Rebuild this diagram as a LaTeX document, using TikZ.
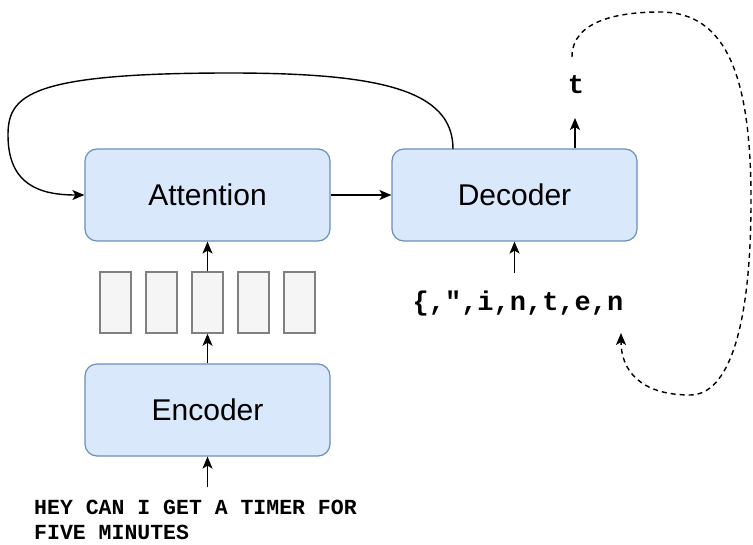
\documentclass[tikz,border=0pt]{standalone}
\usepackage{fontspec}
\setmainfont{Liberation Sans}
\setmonofont{Liberation Mono}
\usetikzlibrary{arrows.meta}
\definecolor{boxfill}{HTML}{DAE8FC}
\definecolor{boxline}{HTML}{6C8EBF}
\definecolor{vecfill}{HTML}{F5F5F5}
\definecolor{vecline}{HTML}{808080}
\begin{document}
\begin{tikzpicture}[x=1pt, y=-1pt,
    box/.style={draw=boxline, fill=boxfill, line width=1.2pt, rounded corners=12pt,
        minimum width=245pt, minimum height=92pt, inner sep=0pt,
        font=\fontsize{30}{36}\selectfont},
    vec/.style={draw=vecline, fill=vecfill, line width=1.5pt, minimum width=31pt,
        minimum height=61pt, inner sep=0pt},
    tok/.style={font=\ttfamily\bfseries\fontsize{21.5}{25}\selectfont, inner sep=0pt},
    bigtok/.style={font=\ttfamily\bfseries\fontsize{27}{30}\selectfont, inner sep=0pt},
    arw/.style={-{Stealth[length=12pt, width=10pt, inset=3pt]}, line width=1.4pt}]
        \useasboundingbox (0,0) rectangle (753,544);
        \node[box] (Attention) at (207.5,195) {
            Attention
        };
        \node[box] (Decoder) at (514.5,195) {
            Decoder
        };
        \node[box] (Encoder) at (207.5,410) {
            Encoder
        };
        \node[vec] (Vec1) at (115.5,302.5) {};
        \node[vec] (Vec2) at (161.5,302.5) {};
        \node[vec] (Vec3) at (207.5,302.5) {};
        \node[vec] (Vec4) at (253.5,302.5) {};
        \node[vec] (Vec5) at (299.5,302.5) {};
        \node[tok, anchor=base west, align=left] (Query) at (34,539) {
            HEY CAN I GET A TIMER FOR\\FIVE MINUTES
        };
        \node[bigtok, anchor=base] (Prefix) at (518,310) {
            \{,",i,n,t,e,n
        };
        \node[bigtok, anchor=base] (Next) at (576,93) {
            t
        };
        \coordinate (QueryTop) at (207.5,487);
        \coordinate (PrefixTop) at (514.5,273);
        \coordinate (NextBottom) at (575,118);
        \coordinate (LoopStart) at (453,149);
        \coordinate (BackStart) at (572,57);
        \coordinate (BackEnd) at (621,333);
        \draw[arw] (QueryTop) -- (Encoder);
        \draw[arw] (Encoder) -- (Vec3);
        \draw[arw] (Vec3) -- (Attention);
        \draw[arw] (Attention) -- (Decoder);
        \draw[arw] (PrefixTop) -- (Decoder);
        \draw[arw] (Decoder.north -| NextBottom) -- (NextBottom);
        % decoder state fed back into attention
        \draw[arw] (LoopStart) .. controls (453,90) and (380,73) .. (230,73)
            .. controls (30,73) and (8,95) .. (8,135)
            .. controls (8,185) and (40,195) .. (Attention.west);
        % next token appended to the prefix
        \draw[arw, dash pattern=on 5pt off 4pt] (BackStart) .. controls (572,20) and (620,12) .. (660,12)
            .. controls (728,12) and (751,80) .. (751,200)
            .. controls (751,330) and (728,395) .. (690,395)
            .. controls (640,395) and (621,370) .. (BackEnd);
\end{tikzpicture}
\end{document}
